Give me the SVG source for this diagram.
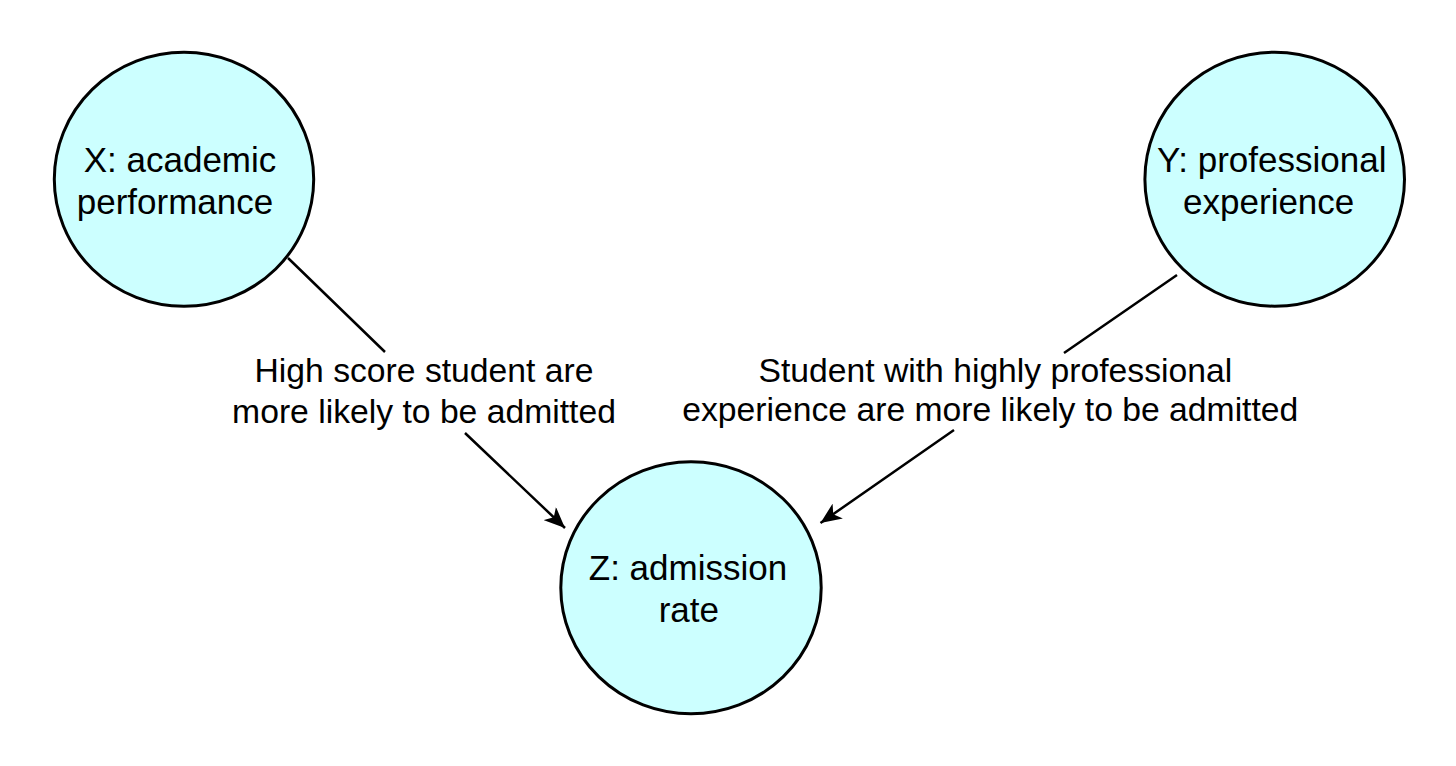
<svg xmlns="http://www.w3.org/2000/svg" width="1456" height="766" viewBox="0 0 1456 766">
<style>
.node{fill:#CCFFFF;stroke:#000;stroke-width:3}
.nt{font-family:"Liberation Sans",Arial,Helvetica,sans-serif;font-size:35px;fill:#000;text-anchor:middle}
.ct{font-family:"Liberation Sans",Arial,Helvetica,sans-serif;font-size:33.7px;fill:#000;text-anchor:middle}
.edge{fill:none;stroke:#000;stroke-width:2.5}
</style>
<defs>
<marker id="arrow" markerUnits="userSpaceOnUse" viewBox="0 0 22 18" refX="21" refY="9" markerWidth="22" markerHeight="18" orient="auto">
<path d="M21,9 L0,0 L5.5,9 L0,18 Z" fill="#000"/>
</marker>
</defs>
<rect width="1456" height="766" fill="#fff"/>
<g id="connectors">
<path class="edge" d="M288,258 L385,352 M465,433 L565,528" marker-end="url(#arrow)"/>
<path class="edge" d="M1177,275 L1064,353 M954,430 L820.5,523" marker-end="url(#arrow)"/>
<text class="ct" x="424" y="382.3">High score student are</text>
<text class="ct" x="424" y="422.5">more likely to be admitted</text>
<text class="ct" x="995.3" y="382.3">Student with highly professional</text>
<text class="ct" x="990.3" y="420.5">experience are more likely to be admitted</text>
</g>
<g id="node-x">
<ellipse class="node" cx="184" cy="179.2" rx="129.7" ry="127"/>
<text class="nt" x="180" y="172">X: academic</text>
<text class="nt" x="175" y="214.3">performance</text>
</g>
<g id="node-y">
<ellipse class="node" cx="1274.7" cy="179.2" rx="129.8" ry="127"/>
<text class="nt" x="1271.7" y="172">Y: professional</text>
<text class="nt" x="1268.7" y="213.5">experience</text>
</g>
<g id="node-z">
<ellipse class="node" cx="691" cy="587.8" rx="130.2" ry="126"/>
<text class="nt" x="688" y="579.5">Z: admission</text>
<text class="nt" x="688.8" y="621.5">rate</text>
</g>
</svg>
